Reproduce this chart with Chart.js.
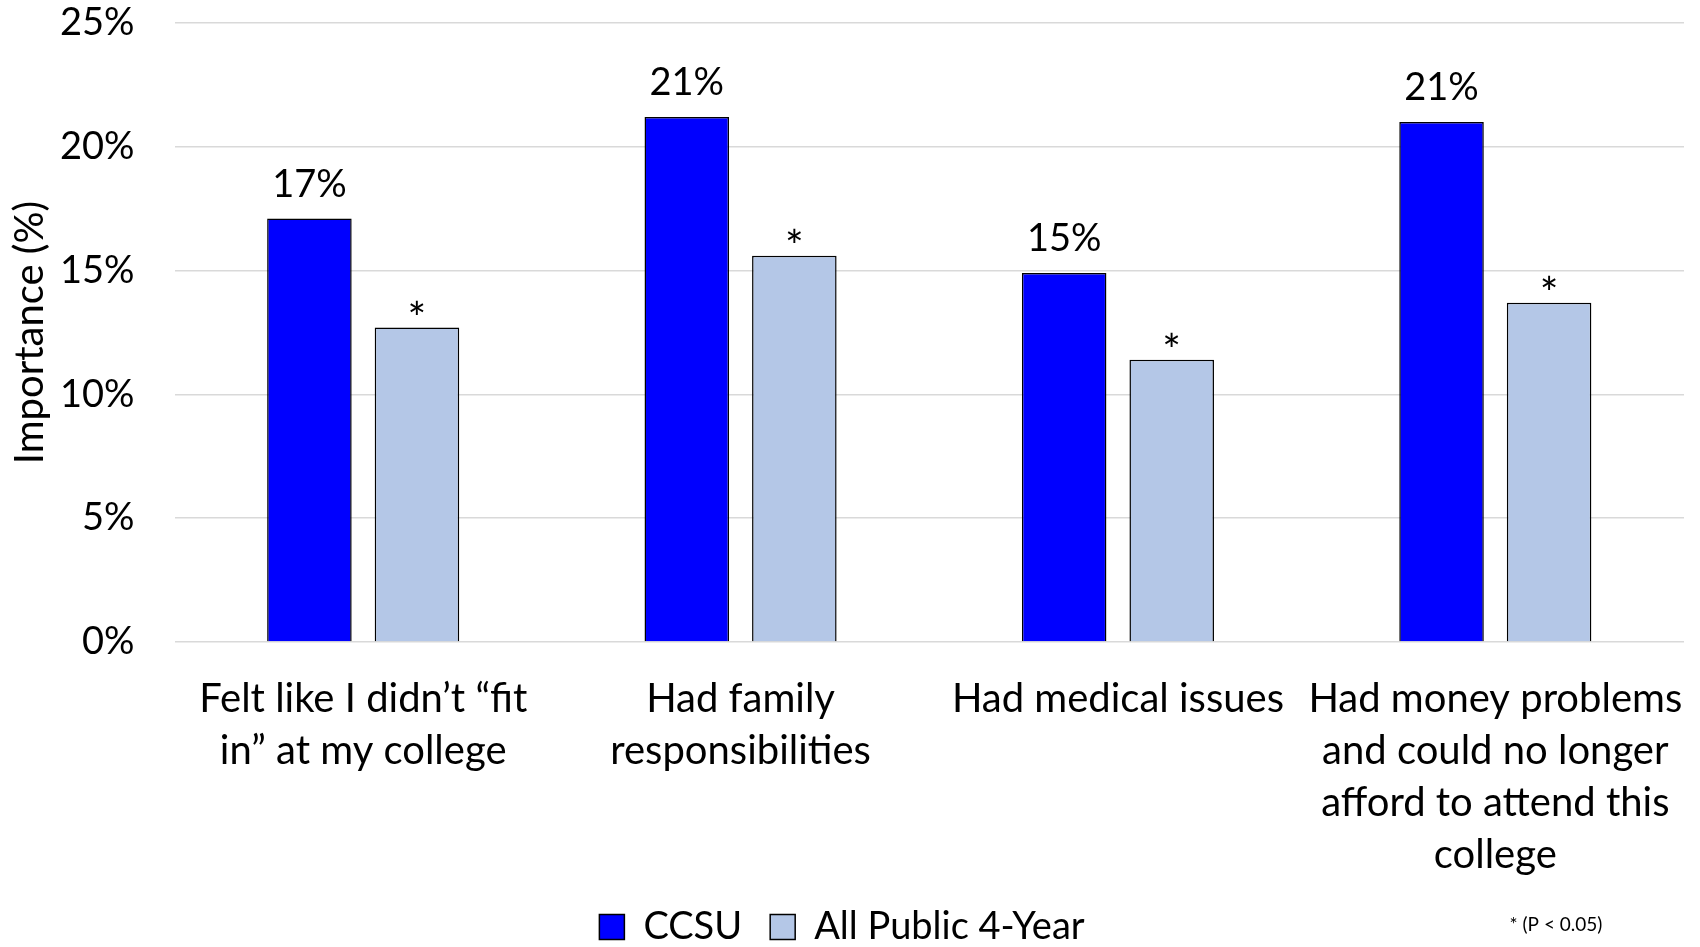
<!DOCTYPE html>
<html>
<head>
<meta charset="utf-8">
<script src="https://cdn.jsdelivr.net/npm/chart.js@4"></script>
<style>
  html, body { margin: 0; padding: 0; background: #fff; }
  #wrap { width: 1700px; height: 947px; }
</style>
</head>
<body>
<div id="wrap"><canvas id="chart" width="1700" height="947"></canvas></div>
<script>
// categories and values
const categories = [
  ["Felt like I didn\u2019t \u201cfit", "in\u201d at my college"],
  ["Had family", "responsibilities"],
  ["Had medical issues"],
  ["Had money problems", "and could no longer", "afford to attend this", "college"]
];
const ccsuValues = [17.1, 21.2, 14.9, 21.0];
const publicValues = [12.7, 15.6, 11.4, 13.7];
const sigMarks = ["*", "*", "*", "*"];
const yTicks = [0, 5, 10, 15, 20, 25];
const footNote = "* (P < 0.05)";

const FONT = "Lato, 'Noto Sans', sans-serif";

// value labels above bars + footnote
const barLabels = {
  id: "barLabels",
  afterDatasetsDraw(chart) {
    const ctx = chart.ctx;
    ctx.save();
    ctx.fillStyle = "#000";
    ctx.textAlign = "center";
    ctx.textBaseline = "alphabetic";
    ctx.font = "38px " + FONT;
    chart.getDatasetMeta(0).data.forEach((bar, i) => {
      ctx.fillText(Math.round(ccsuValues[i]) + "%", bar.x, bar.y - 22);
    });
    ctx.font = "44px " + FONT;
    chart.getDatasetMeta(1).data.forEach((bar, i) => {
      ctx.fillText(sigMarks[i], bar.x, bar.y + 6);
    });
    ctx.font = "19px " + FONT;
    ctx.textBaseline = "middle";
    ctx.fillText(footNote, 1556, 925);
    ctx.restore();
  }
};

new Chart(document.getElementById("chart"), {
  type: "bar",
  data: {
    labels: categories,
    datasets: [
      {
        label: "CCSU",
        data: ccsuValues,
        backgroundColor: "#0000ff",
        borderColor: "#000",
        borderWidth: 1.5,
        barPercentage: 0.786,
        categoryPercentage: 0.57
      },
      {
        label: "All Public 4-Year",
        data: publicValues,
        backgroundColor: "#b4c7e7",
        borderColor: "#000",
        borderWidth: 1.5,
        barPercentage: 0.786,
        categoryPercentage: 0.57
      }
    ]
  },
  options: {
    responsive: false,
    animation: false,
    layout: { padding: { top: 23, right: 16, left: 0, bottom: -9 } },
    plugins: {
      tooltip: { enabled: false },
      legend: {
        position: "bottom",
        labels: {
          color: "#000",
          font: { family: FONT, size: 38 },
          boxWidth: 25,
          boxHeight: 25,
          padding: 28
        }
      }
    },
    scales: {
      x: {
        grid: { display: false, drawTicks: false },
        border: { display: false },
        ticks: {
          color: "#000",
          font: { family: FONT, size: 40, lineHeight: 1.3 },
          padding: 31,
          maxRotation: 0,
          autoSkip: false
        },
        afterFit(scale) {
          scale.height = 238;
          scale.paddingLeft = 0;
          scale.paddingRight = 0;
        }
      },
      y: {
        min: 0,
        max: 25,
        afterBuildTicks(scale) { scale.ticks = yTicks.map(v => ({ value: v })); },
        grid: { color: "#d9d9d9", lineWidth: 1.5, drawTicks: false },
        border: { display: false },
        ticks: {
          color: "#000",
          font: { family: FONT, size: 38 },
          padding: 40,
          callback: v => v + "%"
        },
        title: {
          display: true,
          text: "Importance (%)",
          color: "#000",
          font: { family: FONT, size: 40 },
          padding: { top: 6, bottom: 0 }
        },
        afterFit(scale) {
          scale.width = 174.5;
          scale.paddingTop = 0;
          scale.paddingBottom = 0;
        }
      }
    }
  },
  plugins: [barLabels]
});
</script>
</body>
</html>
